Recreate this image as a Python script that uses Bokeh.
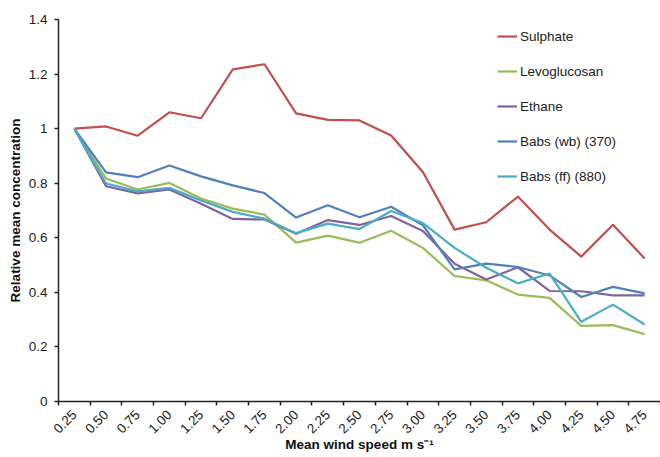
import numpy as np
from bokeh.plotting import figure
from bokeh.models import (Range1d, FixedTicker, CustomJSTickFormatter, Legend, LegendItem)
from bokeh.embed import file_html
from bokeh.resources import INLINE

# Wind-speed bins (m s-1)
speeds = ["0.25", "0.50", "0.75", "1.00", "1.25", "1.50", "1.75", "2.00", "2.25", "2.50",
          "2.75", "3.00", "3.25", "3.50", "3.75", "4.00", "4.25", "4.50", "4.75"]

# Relative mean concentrations per bin
sulphate = [1.000, 1.008, 0.974, 1.060, 1.038, 1.217, 1.236, 1.056, 1.032, 1.030,
            0.975, 0.841, 0.630, 0.657, 0.751, 0.630, 0.531, 0.648, 0.524]
levoglucosan = [1.000, 0.817, 0.777, 0.801, 0.744, 0.707, 0.685, 0.582, 0.608, 0.582,
                0.626, 0.563, 0.460, 0.444, 0.392, 0.380, 0.277, 0.280, 0.247]
ethane = [1.000, 0.789, 0.763, 0.777, 0.725, 0.669, 0.667, 0.615, 0.665, 0.647,
          0.680, 0.625, 0.505, 0.447, 0.492, 0.405, 0.404, 0.389, 0.389]
babs_wb = [1.000, 0.840, 0.822, 0.865, 0.825, 0.792, 0.764, 0.674, 0.719, 0.675,
           0.714, 0.646, 0.484, 0.505, 0.493, 0.462, 0.383, 0.420, 0.396]
babs_ff = [1.000, 0.799, 0.770, 0.783, 0.737, 0.695, 0.670, 0.617, 0.652, 0.632,
           0.698, 0.654, 0.563, 0.490, 0.433, 0.469, 0.292, 0.355, 0.282]

series = [
    ("Sulphate", sulphate, "#C0504D"),
    ("Levoglucosan", levoglucosan, "#9BBB59"),
    ("Ethane", ethane, "#8064A2"),
    ("Babs (wb) (370)", babs_wb, "#4F81BD"),
    ("Babs (ff) (880)", babs_ff, "#4BACC6"),
]

y_ticks = [0, 0.2, 0.4, 0.6, 0.8, 1.0, 1.2, 1.4]

n = len(speeds)
centers = np.arange(n) + 0.5          # category centres
edges = list(range(n + 1))            # category boundaries (tick marks)

FONT = "Liberation Sans"

p = figure(width=660, height=457, output_backend="svg", toolbar_location=None,
           x_range=Range1d(0, n), y_range=Range1d(0, 1.4),
           min_border_left=58, min_border_right=0, min_border_top=19, min_border_bottom=56)
p.outline_line_color = None
p.xgrid.visible = False
p.ygrid.visible = False
p.background_fill_color = "white"
p.border_fill_color = "white"

items = []
for name, vals, color in series:
    r = p.line(centers, vals, line_color=color, line_width=2.2)
    items.append(LegendItem(label=name, renderers=[r]))

# x axis: labels at category centres, tick marks at category edges
xa = p.xaxis[0]
xa.ticker = FixedTicker(ticks=list(centers), minor_ticks=edges)
xa.major_label_overrides = {float(c): s for c, s in zip(centers, speeds)}
xa.major_tick_line_color = None
xa.minor_tick_line_color = "#222222"
xa.minor_tick_line_width = 1.5
xa.minor_tick_out = 4
xa.minor_tick_in = 0
xa.major_label_orientation = np.pi / 4
xa.major_label_standoff = 5
xa.major_label_text_font = FONT
xa.major_label_text_font_size = "13.5px"
xa.major_label_text_color = "#222222"
xa.axis_line_color = "#222222"
xa.axis_line_width = 1.5
xa.axis_label = "Mean wind speed m s⁻¹"
xa.axis_label_text_font = FONT
xa.axis_label_text_font_style = "bold"
xa.axis_label_text_font_size = "13.5px"
xa.axis_label_text_color = "#111111"
xa.axis_label_standoff = -3

# y axis
ya = p.yaxis[0]
ya.ticker = FixedTicker(ticks=y_ticks, minor_ticks=[])
ya.formatter = CustomJSTickFormatter(code="return String(parseFloat(tick.toFixed(1)));")
ya.major_tick_line_color = "#222222"
ya.major_tick_line_width = 1.5
ya.major_tick_out = 4
ya.major_tick_in = 0
ya.major_label_standoff = 7
ya.major_label_text_font = FONT
ya.major_label_text_font_size = "13.5px"
ya.major_label_text_color = "#222222"
ya.axis_line_color = "#222222"
ya.axis_line_width = 1.5
ya.axis_label = "Relative mean concentration"
ya.axis_label_text_font = FONT
ya.axis_label_text_font_style = "bold"
ya.axis_label_text_font_size = "13.5px"
ya.axis_label_text_color = "#111111"
ya.axis_label_standoff = 3

legend = Legend(items=items, location=(439, 215), orientation="vertical")
legend.border_line_color = None
legend.background_fill_alpha = 0
legend.padding = 0
legend.margin = 0
legend.spacing = 15
legend.glyph_width = 20
legend.glyph_height = 20
legend.label_height = 20
legend.label_standoff = 3
legend.label_text_font = FONT
legend.label_text_font_size = "13.5px"
legend.label_text_color = "#222222"
p.add_layout(legend, "center")

open("out.html", "w").write(file_html(p, INLINE))
